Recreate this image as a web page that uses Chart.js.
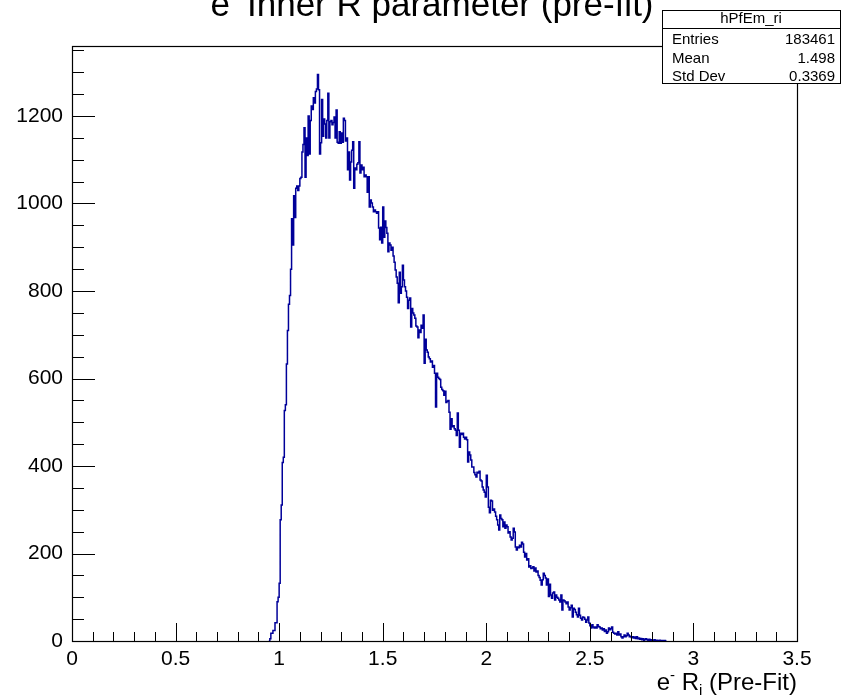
<!DOCTYPE html>
<html>
<head>
<meta charset="utf-8">
<script src="https://cdn.jsdelivr.net/npm/chart.js@4.4.0/dist/chart.umd.min.js"></script>
<style>
  html, body { margin: 0; padding: 0; background: #ffffff; }
  #wrap { width: 841px; height: 700px; position: relative; }
</style>
</head>
<body>
<div id="wrap"><canvas id="c" width="841" height="700"></canvas></div>
<script>
// Histogram hPfEm_ri: 700 bins of 0.005 on [0, 3.5]; only the filled range is listed.
const histName = 'hPfEm_ri';
const xMin = 0, xMax = 3.5;
const yMin = 0, yMax = 1360;
const binWidth = 0.005;
const firstFilledEdge = 0.95;

// bin contents, from x = 0.95 upward
const countsRise = [0,5,18,18,24,24,42,42,90,100,132,277,311,408,420,527,540,633,710,770,790,850];
const countsPeak = [
  965,905,1018,968,1035,1040,1030,1040,1057,1060,
  1118,1135,1173,1060,1150,1110,1200,1113,1190,1223,
  1215,1242,1230,1256,1262,1295,1260,1113,1139,1238,
  1154,1193,1182,1150,1190,1252,1150,1187,1190,1180,
  1185,1198,1150,1214,1140,1138,1164,1138,1161,1140,
  1195,1190,1143,1150,1077,1118,1054,1095,1122,1141,
  1035,1081,1077,1090,1093,1141,1070,1088,1077,1083,
  1061,1065,1061,1026,1061,992,1008,1001,992,981,
  985,981,978,981,944,917,946,910,992,923,
  960,945,932,890,910,905,893,900,880,866,848
];
const countsFall = [
  832,818,773,843,795,810,859,825,810,800,
  786,760,779,784,718,760,750,745,738,720,
  718,693,711,705,722,715,745,635,690,665,
  660,649,645,638,640,626,630,612,535,612,
  603,600,598,580,575,572,562,571,545,548,
  550,523,484,508,490,492,485,482,470,521,
  482,443,475,472,475,466,462,466,460,409,
  432,425,414,398,398,385,380,375,386,384,
  388,368,366,352,345,340,329,379,352,306,
  293,322,320,299,302,295,285,277,265,254,
  288,280,277,261,272,258,265,261,247,250,
  238,231,235,258,249,215,208,215,213,219,
  215,226,222,203,192,200,185,188,169,172,
  166,167,170,160,167,158
];
const countsTail = [
  160,150,145,139,128,140,155,150,144,128,
  142,102,130,105,98,110,112,94,105,100,
  98,94,89,105,71,94,92,89,85,89,
  78,71,76,82,55,75,72,66,60,55,
  75,59,52,48,55,54,50,43,48,55,
  41,35,30,37,32,30,32,30,37,33,
  32,28,30,25,28,22,25,18,21,30,
  26,28,32,20,18,16,18,14,21,14,
  16,10,7,10,14,10,12,18,14,10,
  11,8,10,7,9,6,10,5,7,4,
  6,3,5,2,4,5,3,2,4,2,
  3,1,2,3,1,2,0,1,2,0,
  1,1,0,1,0
];

// labelled axis ticks
const xTickValues = [0, 0.5, 1, 1.5, 2, 2.5, 3, 3.5];
const xTickLabels = ['0', '0.5', '1', '1.5', '2', '2.5', '3', '3.5'];
const yTickValues = [0, 200, 400, 600, 800, 1000, 1200];
const yTickLabels = ['0', '200', '400', '600', '800', '1000', '1200'];

// tick divisions
const xMajorStep = 0.5, xMinorPerMajor = 5;
const yMajorStep = 200, yMinorPerMajor = 4;

// statistics box
const statsLabels = ['Entries', 'Mean', 'Std Dev'];
const statsValues = ['183461', '1.498', '0.3369'];

const FONT = "'Liberation Sans', Arial, Helvetica, sans-serif";
const LINE_COLOR = '#000099';

const counts = [].concat(countsRise, countsPeak, countsFall, countsTail);

// step outline: each bin contributes its left and right edge at its height
const outline = [{ x: firstFilledEdge, y: 0 }];
counts.forEach((c, i) => {
  const lo = firstFilledEdge + i * binWidth;
  outline.push({ x: lo, y: c }, { x: lo + binWidth, y: c });
});
outline.push({ x: firstFilledEdge + counts.length * binWidth, y: 0 });

// draws a string made of normal / superscript / subscript runs
function drawRich(ctx, parts, x, baseline, size, align) {
  const small = Math.round(size * 0.62);
  const widths = parts.map(p => {
    ctx.font = (p.kind === 'n' ? size : small) + 'px ' + FONT;
    return ctx.measureText(p.t).width;
  });
  const total = widths.reduce((a, b) => a + b, 0);
  let cx = align === 'right' ? x - total : (align === 'center' ? x - total / 2 : x);
  parts.forEach((p, i) => {
    ctx.font = (p.kind === 'n' ? size : small) + 'px ' + FONT;
    let dy = 0;
    if (p.kind === 'sup') dy = -size * 0.42;
    if (p.kind === 'sub') dy = size * 0.22;
    ctx.fillText(p.t, cx, baseline + dy);
    cx += widths[i];
  });
}

const rootFrame = {
  id: 'rootFrame',
  afterDatasetsDraw(chart) {
    const { ctx, chartArea: a, scales: { x, y } } = chart;
    ctx.save();
    ctx.strokeStyle = '#000';
    ctx.lineWidth = 1;
    ctx.beginPath();
    // x ticks, pointing into the plot
    const xMinorStep = xMajorStep / xMinorPerMajor;
    const nx = Math.round((xMax - xMin) / xMinorStep);
    for (let k = 0; k <= nx; k++) {
      const px = Math.round(x.getPixelForValue(xMin + k * xMinorStep)) + 0.5;
      const len = k % xMinorPerMajor === 0 ? 18 : 9;
      ctx.moveTo(px, a.bottom);
      ctx.lineTo(px, a.bottom - len);
    }
    // y ticks
    const yMinorStep = yMajorStep / yMinorPerMajor;
    for (let k = 0; yMin + k * yMinorStep <= yMax; k++) {
      const py = Math.round(y.getPixelForValue(yMin + k * yMinorStep)) + 0.5;
      const len = k % yMinorPerMajor === 0 ? 23 : 12;
      ctx.moveTo(a.left, py);
      ctx.lineTo(a.left + len, py);
    }
    ctx.stroke();
    // frame
    ctx.lineWidth = 1.2;
    ctx.strokeRect(Math.round(a.left) + 0.5, Math.round(a.top) + 0.5,
                   Math.round(a.right - a.left), Math.round(a.bottom - a.top));
    ctx.restore();
  },
  afterDraw(chart) {
    const { ctx, chartArea: a } = chart;
    ctx.save();
    ctx.fillStyle = '#000';
    ctx.textBaseline = 'alphabetic';

    // title
    drawRich(ctx, [
      { t: 'e', kind: 'n' }, { t: '-', kind: 'sup' },
      { t: ' Inner R parameter (pre-fit)', kind: 'n' }
    ], 432, 16, 35, 'center');

    // x axis title
    drawRich(ctx, [
      { t: 'e', kind: 'n' }, { t: '-', kind: 'sup' }, { t: ' R', kind: 'n' },
      { t: 'i', kind: 'sub' }, { t: ' (Pre-Fit)', kind: 'n' }
    ], a.right, 690, 24, 'right');

    // statistics box
    const bx = 662, by = 10, bw = 178, bh = 73;
    ctx.fillStyle = '#fff';
    ctx.fillRect(bx, by, bw, bh);
    ctx.strokeStyle = '#000';
    ctx.lineWidth = 1;
    ctx.strokeRect(bx + 0.5, by + 0.5, bw, bh);
    ctx.beginPath();
    ctx.moveTo(bx, 28.5);
    ctx.lineTo(bx + bw, 28.5);
    ctx.stroke();
    ctx.fillStyle = '#000';
    ctx.font = '15px ' + FONT;
    ctx.textAlign = 'center';
    ctx.fillText(histName, bx + bw / 2, 23);
    const rowBase = [44, 62.5, 81];
    statsLabels.forEach((lab, i) => {
      ctx.textAlign = 'left';
      ctx.fillText(lab, 672, rowBase[i]);
      ctx.textAlign = 'right';
      ctx.fillText(statsValues[i], 835, rowBase[i]);
    });
    ctx.restore();
  }
};

Chart.defaults.font.family = FONT;
Chart.defaults.color = '#000';

new Chart(document.getElementById('c'), {
  type: 'line',
  data: {
    datasets: [{
      data: outline,
      borderColor: LINE_COLOR,
      borderWidth: 1.5,
      pointRadius: 0,
      tension: 0,
      fill: false,
      borderJoinStyle: 'miter'
    }]
  },
  options: {
    responsive: false,
    animation: false,
    devicePixelRatio: 1,
    layout: { padding: { top: 46, right: 44, left: 0, bottom: 0 } },
    plugins: { legend: { display: false }, title: { display: false }, tooltip: { enabled: false } },
    scales: {
      x: {
        type: 'linear',
        min: xMin, max: xMax,
        afterBuildTicks(scale) { scale.ticks = xTickValues.map(v => ({ value: v })); },
        afterFit(scale) { scale.height = 59; },
        grid: { display: false, drawTicks: false },
        border: { display: false },
        ticks: {
          autoSkip: false,
          maxRotation: 0,
          padding: 6,
          font: { size: 21 },
          color: '#000',
          callback: (v, i) => xTickLabels[i]
        }
      },
      y: {
        type: 'linear',
        min: yMin, max: yMax,
        afterBuildTicks(scale) { scale.ticks = yTickValues.map(v => ({ value: v })); },
        afterFit(scale) { scale.width = 72; },
        grid: { display: false, drawTicks: false },
        border: { display: false },
        ticks: {
          autoSkip: false,
          padding: 9,
          font: { size: 21 },
          color: '#000',
          callback: (v, i) => yTickLabels[i]
        }
      }
    }
  },
  plugins: [rootFrame]
});
</script>
</body>
</html>
